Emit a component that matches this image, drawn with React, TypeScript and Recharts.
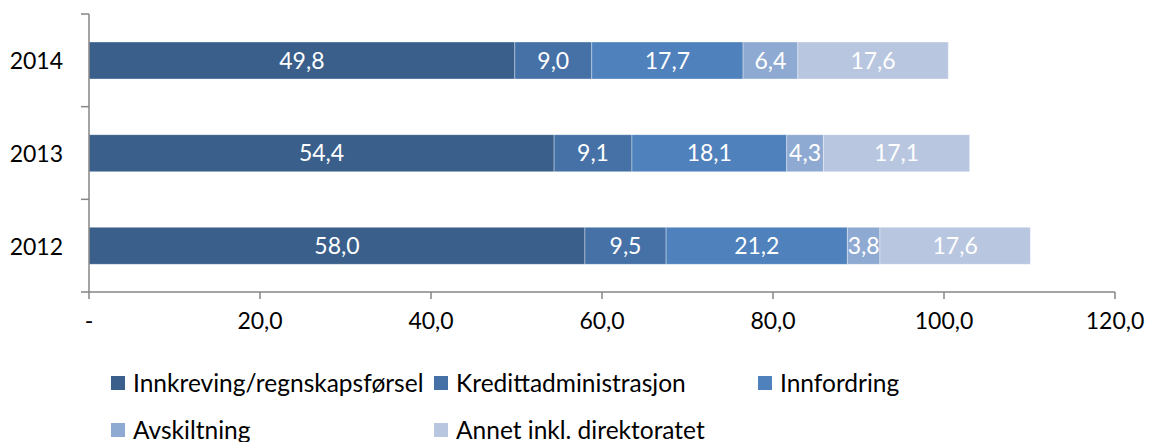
import { BarChart, Bar, XAxis, YAxis, LabelList } from 'recharts'

// kategorier (øverst til nederst)
const YEARS = ['2014', '2013', '2012']

// verdier per serie, samme rekkefølge som YEARS
const innkreving = [49.8, 54.4, 58.0]
const kreditt = [9.0, 9.1, 9.5]
const innfordring = [17.7, 18.1, 21.2]
const avskiltning = [6.4, 4.3, 3.8]
const annet = [17.6, 17.1, 17.6]

const X_TICKS = [0, 20, 40, 60, 80, 100, 120]

const SERIES = [
  { key: 'innkreving', name: 'Innkreving/regnskapsførsel', color: '#3A5F8B', values: innkreving },
  { key: 'kreditt', name: 'Kredittadministrasjon', color: '#4571A7', values: kreditt },
  { key: 'innfordring', name: 'Innfordring', color: '#4F81BD', values: innfordring },
  { key: 'avskiltning', name: 'Avskiltning', color: '#8FAAD2', values: avskiltning },
  { key: 'annet', name: 'Annet inkl. direktoratet', color: '#B9C6E0', values: annet }
]

const data = YEARS.map((year, i) => {
  const row: Record<string, any> = { year }
  SERIES.forEach(s => { row[s.key] = s.values[i] })
  return row
})

const FONT = 'Lato, "Open Sans", sans-serif'
const AXIS_COLOR = '#868686'
const PLOT_TOP = 14
const PLOT_BOTTOM = 292
const AXIS_X = 89

const fmt = (v: number) => v.toFixed(1).replace('.', ',')

// tick med streker på kategorigrensene
const YTick = (props: any) => {
  const { y, payload, index } = props
  const band = (PLOT_BOTTOM - PLOT_TOP) / YEARS.length
  const top = y - band / 2
  return (
    <g>
      <text x={63} y={y} textAnchor="end" dominantBaseline="central" fontSize={23} fontFamily={FONT} fill="#000">
        {payload.value}
      </text>
      <line x1={AXIS_X - 8} x2={AXIS_X} y1={top} y2={top} stroke={AXIS_COLOR} strokeWidth={1.5} />
      {index === YEARS.length - 1 && (
        <line x1={AXIS_X - 8} x2={AXIS_X} y1={y + band / 2} y2={y + band / 2} stroke={AXIS_COLOR} strokeWidth={1.5} />
      )}
    </g>
  )
}

export default function App() {
  return (
    <div style={{ position: 'absolute', left: 0, top: 0, width: 1151, height: 442, background: '#fff', fontFamily: FONT }}>
      <BarChart
        width={1151}
        height={345}
        data={data}
        layout="vertical"
        margin={{ top: PLOT_TOP, right: 36, left: 0, bottom: 0 }}
        barCategoryGap={0}
      >
        <XAxis
          type="number"
          domain={[0, 120]}
          ticks={X_TICKS}
          tickFormatter={(v: number) => (v === 0 ? '-' : fmt(v))}
          height={345 - PLOT_BOTTOM}
          tickSize={7}
          tickMargin={14}
          stroke={AXIS_COLOR}
          strokeWidth={1.5}
          tick={{ fill: '#000', fontSize: 23, fontFamily: FONT }}
        />
        <YAxis
          type="category"
          dataKey="year"
          width={AXIS_X}
          tickLine={false}
          stroke={AXIS_COLOR}
          strokeWidth={1.5}
          tick={<YTick />}
        />
        {SERIES.map(s => (
          <Bar
            key={s.key}
            dataKey={s.key}
            name={s.name}
            stackId="a"
            fill={s.color}
            stroke="rgba(255,255,255,0.35)"
            strokeWidth={1}
            barSize={37}
            isAnimationActive={false}
          >
            <LabelList
              dataKey={s.key}
              position="center"
              formatter={(v: any) => fmt(Number(v))}
              fill="#ffffff"
              fontSize={23}
              fontFamily={FONT}
            />
          </Bar>
        ))}
      </BarChart>
      <div
        style={{
          position: 'absolute',
          left: 111,
          top: 359,
          display: 'grid',
          gridTemplateColumns: '323px 324px 324px',
          gridAutoRows: '47px'
        }}
      >
        {SERIES.map(s => (
          <div key={s.key} style={{ display: 'flex', alignItems: 'center', fontSize: 24.5, color: '#000', whiteSpace: 'nowrap' }}>
            <span style={{ width: 14, height: 14, background: s.color, marginRight: 8, flex: 'none' }} />
            {s.name}
          </div>
        ))}
      </div>
    </div>
  )
}
